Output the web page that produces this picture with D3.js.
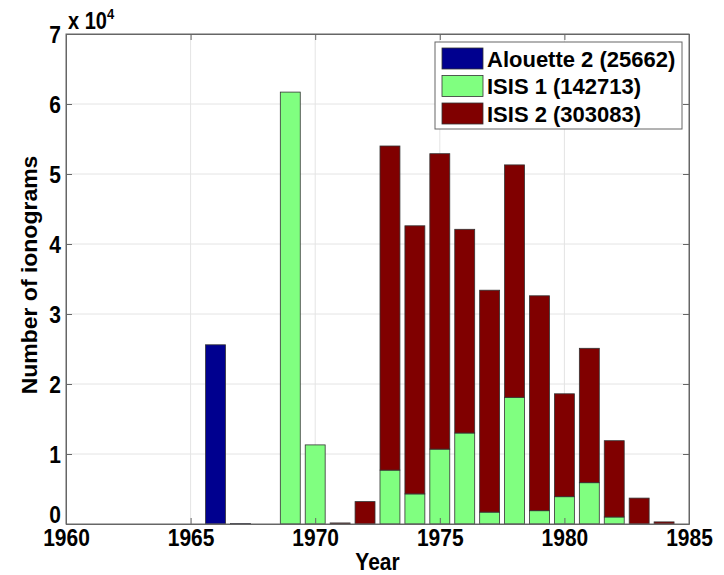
<!DOCTYPE html>
<html>
<head>
<meta charset="utf-8">
<script src="https://cdn.jsdelivr.net/npm/d3@7"></script>
<style>
  body { margin: 0; background: #fff; }
  text { font-family: "Liberation Sans", Arial, sans-serif; font-weight: bold; fill: #000; }
</style>
</head>
<body>
<div id="wrapper"></div>
<script>
// ionogram counts per year
const years = [1966, 1967, 1968, 1969, 1970, 1971, 1972, 1973, 1974, 1975,
               1976, 1977, 1978, 1979, 1980, 1981, 1982, 1983, 1984]
const alouette2 = [25600, 62, 0, 0, 0, 0, 0, 0, 0, 0,
                   0, 0, 0, 0, 0, 0, 0, 0, 0]
const isis1 = [0, 0, 0, 61700, 11300, 0, 0, 7700, 4300, 10700,
               13000, 1700, 18100, 1900, 3900, 5900, 1000, 0, 0]
const isis2 = [0, 0, 0, 0, 0, 150, 3200, 46300, 38300, 42200,
               29100, 31700, 33200, 30700, 14700, 19200, 10900, 3700, 300]

const seriesNames = ["Alouette 2 (25662)", "ISIS 1 (142713)", "ISIS 2 (303083)"]
const seriesKeys = ["alouette2", "isis1", "isis2"]
const seriesColors = ["#00008f", "#80ff80", "#800000"]

const xTicks = [1960, 1965, 1970, 1975, 1980, 1985]
const yTicks = [0, 1, 2, 3, 4, 5, 6, 7]

function drawBarChart() {
    const table = years.map((y, i) => ({
        year: y,
        alouette2: alouette2[i],
        isis1: isis1[i],
        isis2: isis2[i]
    }))

    let dimensions = {
        width: 724,
        height: 575,
        margins: { top: 34, right: 35, bottom: 51, left: 66 }
    }
    dimensions.boundedWidth = dimensions.width
        - dimensions.margins.left
        - dimensions.margins.right
    dimensions.boundedHeight = dimensions.height
        - dimensions.margins.top
        - dimensions.margins.bottom

    const stretch = 1.15   // the figure's lettering is a bit tall and narrow

    const wrapper = d3.select("#wrapper")
        .append("svg")
            .attr("width", dimensions.width)
            .attr("height", dimensions.height)
            .style("background", "#fff")

    const bounds = wrapper.append("g")
        .attr("transform", `translate(${dimensions.margins.left},${dimensions.margins.top})`)

    const xScale = d3.scaleLinear()
        .domain([1960, 1985])
        .range([0, dimensions.boundedWidth])
    const yScale = d3.scaleLinear()
        .domain([0, 70000])
        .range([dimensions.boundedHeight, 0])

    // grid
    bounds.append("g")
        .selectAll("line")
        .data(xTicks.slice(1, -1))
        .join("line")
            .attr("x1", d => xScale(d)).attr("x2", d => xScale(d))
            .attr("y1", 0).attr("y2", dimensions.boundedHeight)
            .attr("stroke", "#e4e4e4")
    bounds.append("g")
        .selectAll("line")
        .data(yTicks.slice(1, -1))
        .join("line")
            .attr("y1", d => yScale(d * 1e4)).attr("y2", d => yScale(d * 1e4))
            .attr("x1", 0).attr("x2", dimensions.boundedWidth)
            .attr("stroke", "#e4e4e4")

    // stacked bars
    const stacked = d3.stack().keys(seriesKeys)(table)
    const barHalf = 0.4
    stacked.forEach((layer, li) => {
        bounds.append("g")
            .selectAll("rect")
            .data(layer.filter(d => d[1] - d[0] > 0))
            .join("rect")
                .attr("x", d => xScale(d.data.year - barHalf))
                .attr("width", d => xScale(d.data.year + barHalf) - xScale(d.data.year - barHalf))
                .attr("y", d => yScale(d[1]))
                .attr("height", d => Math.max(1, yScale(d[0]) - yScale(d[1])))
                .attr("fill", seriesColors[li])
                .attr("stroke", "#333")
                .attr("stroke-width", 0.8)
    })

    // axes
    const tickLen = 6
    const xAxisGenerator = d3.axisBottom(xScale)
        .tickValues(xTicks)
        .tickFormat(d3.format("d"))
        .tickSizeInner(-tickLen).tickSizeOuter(0)
    const xAxis = bounds.append("g")
        .attr("transform", `translate(0,${dimensions.boundedHeight})`)
        .call(xAxisGenerator)
    xAxis.selectAll(".tick text")
        .attr("dy", null)
        .attr("y", 22 / stretch)
        .attr("transform", `scale(1,${stretch})`)
    bounds.append("g")
        .call(d3.axisTop(xScale).tickValues(xTicks).tickFormat("")
            .tickSizeInner(-tickLen).tickSizeOuter(0))

    const yAxisGenerator = d3.axisLeft(yScale)
        .tickValues(yTicks.map(d => d * 1e4))
        .tickFormat(d => d / 1e4)
        .tickSizeInner(-tickLen).tickSizeOuter(0).tickPadding(5)
    const yAxis = bounds.append("g").call(yAxisGenerator)
    yAxis.selectAll(".tick text")
        .attr("dy", "0.36em")
        .attr("transform", `scale(1,${stretch})`)
    yAxis.selectAll(".tick")
        .filter(d => d === 0)
        .select("text")
        .attr("dy", "-0.05em")
    bounds.append("g")
        .attr("transform", `translate(${dimensions.boundedWidth},0)`)
        .call(d3.axisRight(yScale).tickValues(yTicks.map(d => d * 1e4)).tickFormat("")
            .tickSizeInner(-tickLen).tickSizeOuter(0))

    wrapper.selectAll(".domain, .tick line").attr("stroke", "#666")
    wrapper.selectAll(".tick text")
        .style("font-size", "21px")
        .style("font-family", "'Liberation Sans', Arial, sans-serif")
        .style("font-weight", "bold")
        .attr("fill", "#000")

    // frame
    bounds.append("rect")
        .attr("width", dimensions.boundedWidth)
        .attr("height", dimensions.boundedHeight)
        .attr("fill", "none")
        .attr("stroke", "#666")

    // exponent label
    const expo = wrapper.append("text")
        .attr("transform", `translate(68,29) scale(1,${stretch})`)
        .style("font-size", "20px")
    expo.append("tspan").text("x 10")
    expo.append("tspan").text("4")
        .attr("dy", -9).style("font-size", "13px")

    // axis labels
    wrapper.append("text")
        .attr("transform", `translate(${dimensions.margins.left + xScale(1972.5)},570) scale(1,${stretch})`)
        .attr("text-anchor", "middle")
        .style("font-size", "21px")
        .text("Year")
    wrapper.append("text")
        .attr("transform", `translate(37,275) rotate(-90) scale(1,0.92)`)
        .attr("text-anchor", "middle")
        .style("font-size", "23px")
        .text("Number of ionograms")

    // legend
    const legend = wrapper.append("g").attr("transform", "translate(435,42)")
    legend.append("rect")
        .attr("width", 247).attr("height", 87)
        .attr("fill", "#fff").attr("stroke", "#666")
    const rows = legend.selectAll("g.row")
        .data(seriesNames)
        .join("g")
            .attr("class", "row")
            .attr("transform", (d, i) => `translate(7,${6 + i * 27.5})`)
    rows.append("rect")
        .attr("width", 41).attr("height", 21)
        .attr("fill", (d, i) => seriesColors[i])
        .attr("stroke", "#333").attr("stroke-width", 0.8)
    rows.append("text")
        .attr("x", 45).attr("y", 18.5)
        .style("font-size", "22px")
        .text(d => d)
}

drawBarChart()
</script>
</body>
</html>
